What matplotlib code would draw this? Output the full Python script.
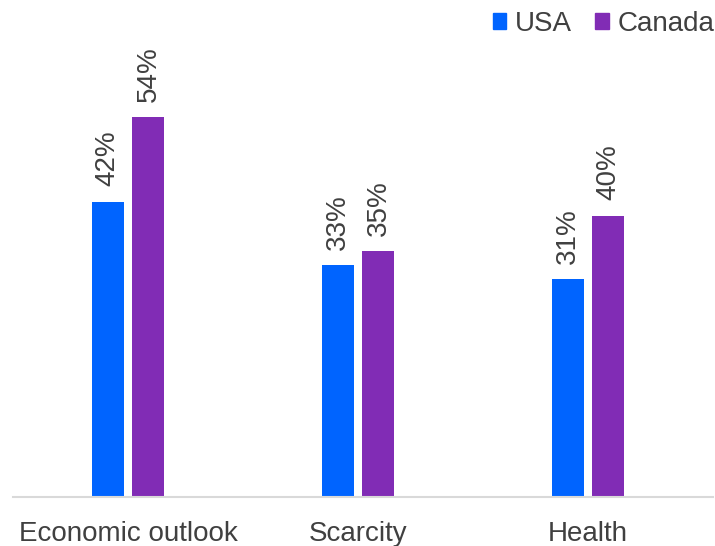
import matplotlib
matplotlib.use("Agg")
import matplotlib.pyplot as plt
import numpy as np
from matplotlib.patches import Patch

categories = ["Economic outlook", "Scarcity", "Health"]
series_names = ["USA", "Canada"]
usa = [42, 33, 31]
canada = [54, 35, 40]
colors = ["#0064FF", "#812CB5"]
text_color = "#404040"

plt.rcParams['font.family'] = ['Liberation Sans', 'DejaVu Sans']

fig = plt.figure(figsize=(7.15, 5.46), dpi=100)
W, H = 715, 546
left_px, right_px = 13, 713
base_px, top_px = 497, 75
ax = fig.add_axes([left_px / W, 1 - base_px / H, (right_px - left_px) / W, (base_px - top_px) / H])

x = np.arange(len(categories))
bw = 0.139
off = 0.089
for vals, sign, col, name in [(usa, -1, colors[0], series_names[0]), (canada, 1, colors[1], series_names[1])]:
    bars = ax.bar(x + sign * off, vals, width=bw, color=col, label=name, zorder=2)
    for b, v in zip(bars, vals):
        ax.annotate(f"{v}%", (b.get_x() + b.get_width() / 2, v), xytext=(0, 11),
                    textcoords="offset points", rotation=90, ha="center", va="bottom",
                    fontsize=20, color=text_color, annotation_clip=False)

ax.set_xlim(-0.5, 2.5 + 10 / 230)
ax.set_ylim(0, 60)
ax.set_xticks(x)
ax.set_xticklabels(categories, fontsize=20, color=text_color)
ax.tick_params(axis='x', length=0, pad=17)
ax.set_yticks([])
for s in ["top", "right", "left"]:
    ax.spines[s].set_visible(False)
ax.spines["bottom"].set_color("#D9D9D9")
ax.spines["bottom"].set_linewidth(1.5)

handles = [Patch(color=c, label=n) for c, n in zip(colors, series_names)]
fig.legend(handles=handles, loc="upper right", bbox_to_anchor=(1.0 + 5 / W, 1.0 - 5 / H), ncol=2, frameon=False,
           fontsize=20, labelcolor=text_color, handlelength=0.5, handleheight=0.5,
           handletextpad=0.3, columnspacing=0.85, borderaxespad=0.1, borderpad=0.1)

fig.savefig("out.png", dpi=100)
